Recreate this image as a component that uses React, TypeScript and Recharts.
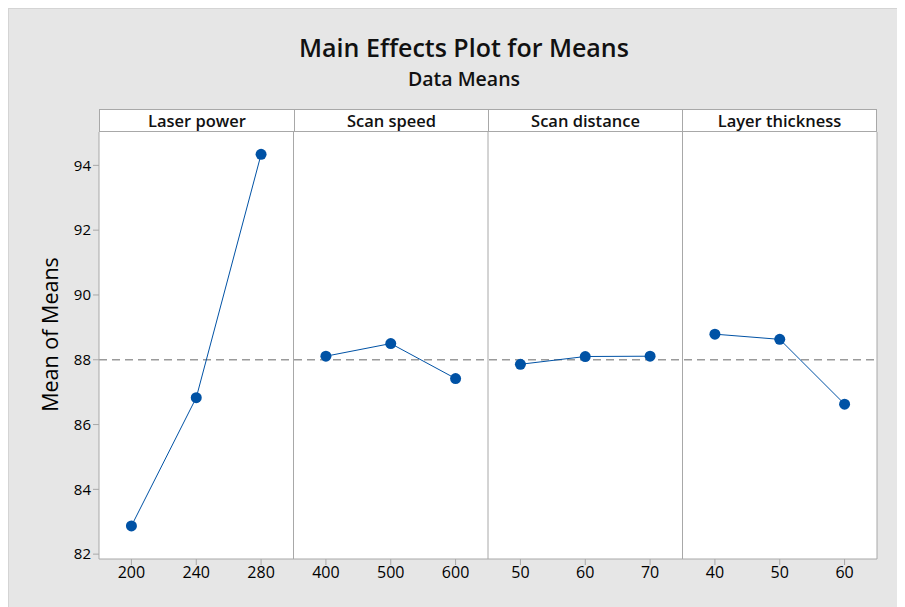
import { CartesianGrid, Line, LineChart, ReferenceLine, XAxis, YAxis } from 'recharts';

const factors = ['Laser power', 'Scan speed', 'Scan distance', 'Layer thickness'];
const factorKeys = ['laser', 'speed', 'distance', 'layer'];

const laserLevels = ['200', '240', '280'];
const speedLevels = ['400', '500', '600'];
const distanceLevels = ['50', '60', '70'];
const layerLevels = ['40', '50', '60'];

const laserMeans = [82.87, 86.83, 94.34];
const speedMeans = [88.11, 88.5, 87.42];
const distanceMeans = [87.86, 88.1, 88.11];
const layerMeans = [88.79, 88.63, 86.63];

const grandMean = 88;
const yTicks = [82, 84, 86, 88, 90, 92, 94];

const levels = [laserLevels, speedLevels, distanceLevels, layerLevels];
const means = [laserMeans, speedMeans, distanceMeans, layerMeans];

// one row per level, only the owning factor's key is set so each line stays in its panel
const rows: Record<string, number | string>[] = [];
levels.forEach((lv, fi) => {
  lv.forEach((label, li) => {
    rows.push({ x: fi * 3 + li, label, [factorKeys[fi]]: means[fi][li] });
  });
});
const tickLabels = rows.map((r) => r.label as string);
const xTicks = rows.map((r) => r.x as number);
const panelEdges = factors.map((_, i) => i * 3 + 2.5);

const FONT = '"Open Sans", "Noto Sans", sans-serif';
const W = 897;
const H = 599;
const PLOT_LEFT = 90;
const PLOT_RIGHT = 868;
const PLOT_TOP = 123;
const STRIP_H = 23;
const GRID = '#a8a8a8';
const BLUE = '#0052a5';

export default function App() {
  const panelW = (PLOT_RIGHT - PLOT_LEFT) / factors.length;
  return (
    <div
      style={{
        position: 'relative',
        width: W,
        height: H,
        background: '#e6e6e6',
        borderTop: '1px solid #d4d4d4',
        borderLeft: '1px solid #d4d4d4',
        boxSizing: 'border-box',
        fontFamily: FONT,
      }}
    >
      <div
        style={{
          position: 'absolute',
          left: 0,
          width: 910,
          top: 21,
          textAlign: 'center',
          fontSize: 25,
          lineHeight: '34px',
          fontWeight: 600,
          color: '#111',
        }}
      >
        Main Effects Plot for Means
      </div>
      <div
        style={{
          position: 'absolute',
          left: 0,
          width: 910,
          top: 56,
          textAlign: 'center',
          fontSize: 19.5,
          lineHeight: '28px',
          fontWeight: 600,
          color: '#111',
        }}
      >
        Data Means
      </div>

      <LineChart
        width={W}
        height={H}
        data={rows}
        margin={{ top: PLOT_TOP, right: W - PLOT_RIGHT, bottom: 19, left: 0 }}
        style={{ position: 'absolute', left: 0, top: 0 }}
      >
        <CartesianGrid fill="#ffffff" horizontal={false} vertical={false} />
        <XAxis
          type="number"
          dataKey="x"
          domain={[-0.5, 11.5]}
          ticks={xTicks}
          allowDataOverflow
          height={30}
          tickFormatter={(v) => tickLabels[v] ?? ''}
          tick={{ fontSize: 16, fill: '#000', fontFamily: FONT }}
          tickSize={6}
          tickLine={{ stroke: GRID }}
          axisLine={{ stroke: GRID }}
        />
        <YAxis
          type="number"
          domain={[81.85, 95.03]}
          ticks={yTicks}
          allowDataOverflow
          width={PLOT_LEFT}
          tick={{ fontSize: 15, fill: '#000', fontFamily: FONT }}
          tickSize={6}
          tickLine={{ stroke: GRID }}
          axisLine={{ stroke: GRID }}
          label={({ viewBox }: any) => {
            const cx = viewBox.x + 40;
            const cy = viewBox.y + viewBox.height / 2 - 11;
            return (
              <text
                x={cx}
                y={cy}
                transform={`rotate(-90 ${cx} ${cy})`}
                textAnchor="middle"
                dominantBaseline="central"
                fontSize={21.5}
                fontFamily={FONT}
                fill="#000"
              >
                Mean of Means
              </text>
            );
          }}
        />
        {panelEdges.map((e) => (
          <ReferenceLine key={e} x={e} stroke={GRID} strokeWidth={1} />
        ))}
        <ReferenceLine y={grandMean} stroke="#9a9a9a" strokeWidth={1.5} strokeDasharray="8 5" />
        {factorKeys.map((k) => (
          <Line
            key={k}
            dataKey={k}
            stroke={BLUE}
            strokeWidth={1}
            dot={{ r: 5.5, fill: BLUE, stroke: 'none' }}
            activeDot={false}
            isAnimationActive={false}
          />
        ))}
      </LineChart>

      <div
        style={{
          position: 'absolute',
          left: PLOT_LEFT,
          top: PLOT_TOP - STRIP_H,
          width: PLOT_RIGHT - PLOT_LEFT,
          height: STRIP_H,
          display: 'flex',
          background: '#fff',
          boxSizing: 'border-box',
          border: `1px solid ${GRID}`,
        }}
      >
        {factors.map((f, i) => (
          <div
            key={f}
            style={{
              width: panelW,
              boxSizing: 'border-box',
              borderLeft: i > 0 ? `1px solid ${GRID}` : 'none',
              textAlign: 'center',
              fontSize: 16.5,
              fontWeight: 600,
              lineHeight: `${STRIP_H - 2}px`,
              color: '#111',
            }}
          >
            {f}
          </div>
        ))}
      </div>
    </div>
  );
}
